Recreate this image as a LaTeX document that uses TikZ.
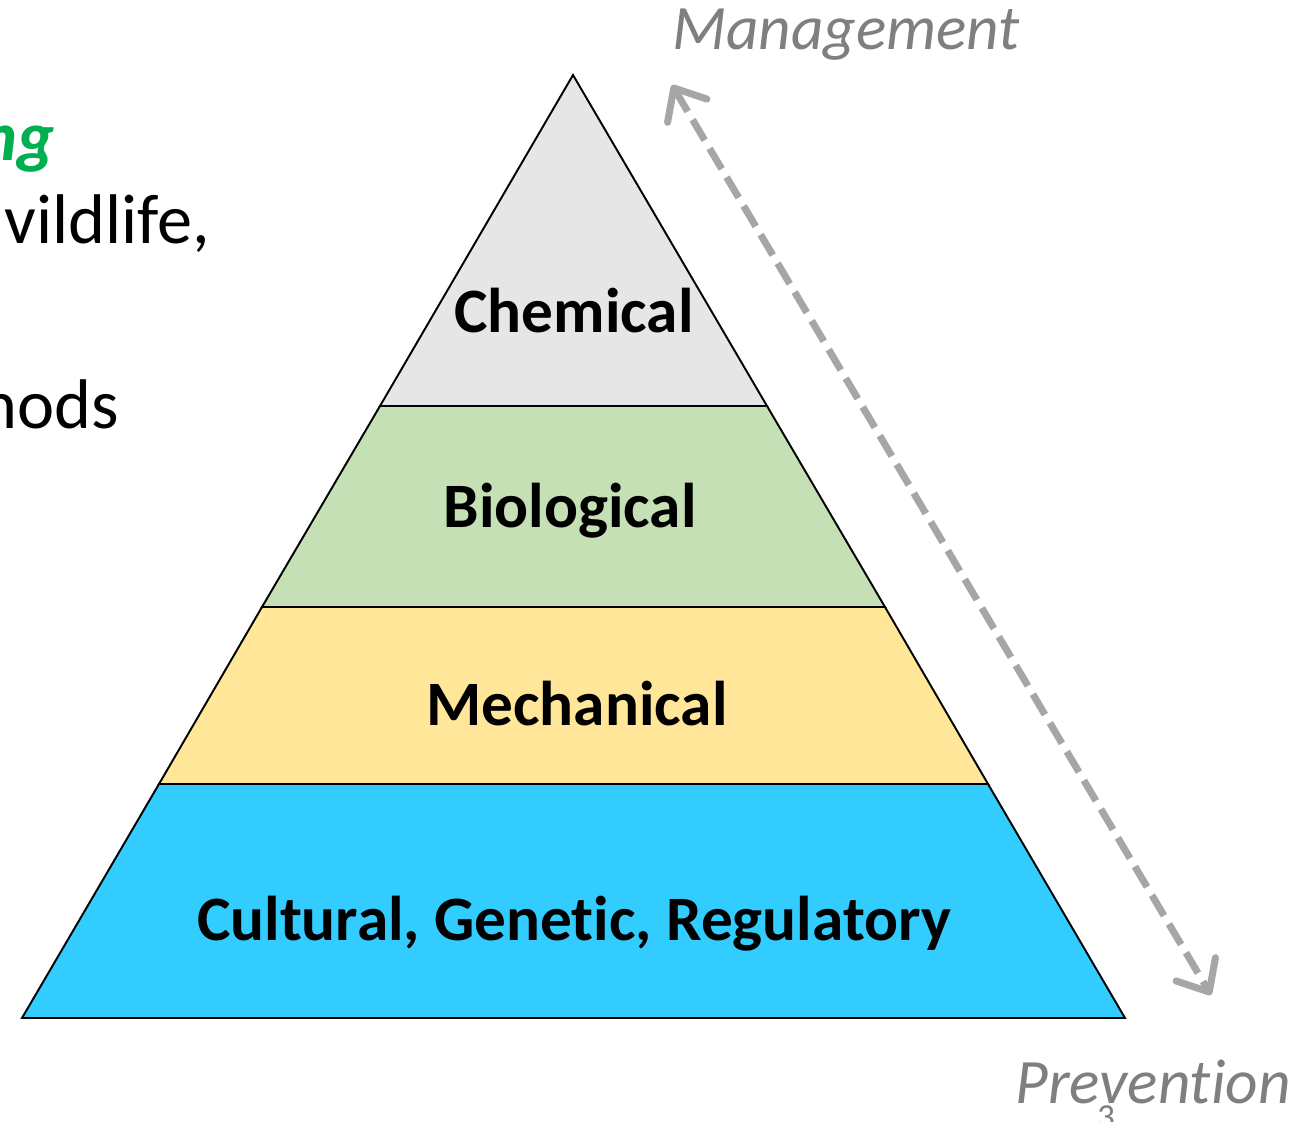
\documentclass[tikz,border=0pt]{standalone}
\usepackage{fontspec}
\setmainfont{Carlito}
\usetikzlibrary{arrows.meta}

\definecolor{chemgray}{HTML}{E6E6E6}
\definecolor{biogreen}{HTML}{C5E0B4}
\definecolor{mechyellow}{HTML}{FFE699}
\definecolor{cultblue}{HTML}{33CCFF}
\definecolor{axisgray}{HTML}{A6A6A6}
\definecolor{labelgray}{HTML}{7F7F7F}
\definecolor{titlegreen}{HTML}{00B050}

% keeps t and i apart (no ti ligature)
\newcommand{\nolig}{\kern0pt }

\tikzset{
    band/.style={draw=black, line width=1.1pt, line join=miter},
    bandlabel/.style={font=\fontsize{36}{43}\selectfont\bfseries, anchor=base, inner sep=0pt},
    axislabel/.style={font=\fontsize{36}{43}\selectfont\itshape, text=labelgray, anchor=base west, inner sep=0pt},
    sidetext/.style={font=\fontsize{40}{48}\selectfont, anchor=base east, inner sep=0pt},
}

\begin{document}
\begin{tikzpicture}[x=0.02cm, y=-0.02cm]

    % Page area
    \clip (0,0) rectangle (1302,1122);
    \fill[white] (0,0) rectangle (1302,1122);

    % Text running in from the left
    \node[sidetext, font=\fontsize{40}{48}\selectfont\bfseries\itshape, text=titlegreen] (head) at (55,160) {ng};
    \node[sidetext] (lineone) at (210,243) {vildlife,};
    \node[sidetext] (linetwo) at (119,428) {nods};

    % Pyramid bands, bottom to top
    \filldraw[band, fill=cultblue] (22,1018) -- (1125,1018) -- (988,784) -- (159,784) -- cycle;
    \filldraw[band, fill=mechyellow] (159,784) -- (988,784) -- (885,607) -- (262,607) -- cycle;
    \filldraw[band, fill=biogreen] (262,607) -- (885,607) -- (767,406) -- (380,406) -- cycle;
    \filldraw[band, fill=chemgray] (380,406) -- (767,406) -- (573,75) -- cycle;

    % Band names
    \node[bandlabel] (chem) at (574,332) {Chemical};
    \node[bandlabel] (bio) at (570,527) {Biological};
    \node[bandlabel] (mech) at (577,725) {Mechanical};
    \node[bandlabel] (cult) at (574,940) {Cultural, Genet\nolig ic, Regulatory};

    % Management / prevention axis
    \node[axislabel] (mgmt) at (672,50) {Management};
    \node[axislabel] (prev) at (1015,1103) {Prevent\nolig ion};
    \node[font=\fontsize{20}{24}\selectfont, text=labelgray, anchor=base, inner sep=0pt] (page) at (1106,1128) {3};

    \coordinate (top) at (672,85);
    \coordinate (bottom) at (1211,995);
    \draw[axisgray, line width=4pt, dash pattern=on 13.5pt off 5.5pt,
          {Straight Barb[length=15pt, width=26pt, round]}-{Straight Barb[length=15pt, width=26pt, round]}]
        (top) -- (bottom);

\end{tikzpicture}
\end{document}
